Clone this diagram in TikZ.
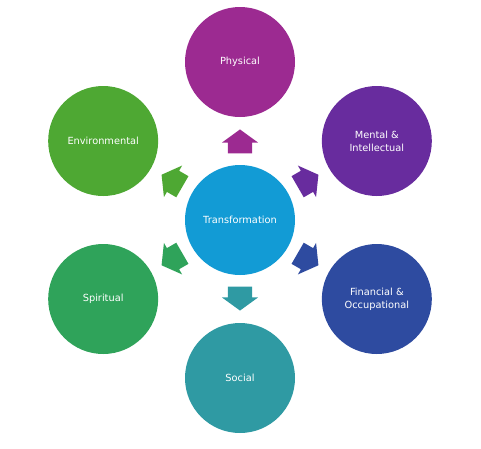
\documentclass[tikz,border=0pt]{standalone}
\usepackage{fontspec}
\setmainfont{DejaVu Sans}
\usepackage{tikz}
\usetikzlibrary{shapes.arrows, calc}
\definecolor{CenterCol}{RGB}{18,155,213}
\definecolor{PhysCol}{RGB}{156,42,145}
\definecolor{MentCol}{RGB}{104,44,158}
\definecolor{FinCol}{RGB}{46,75,160}
\definecolor{SocCol}{RGB}{47,154,163}
\definecolor{SpirCol}{RGB}{47,163,90}
\definecolor{EnvCol}{RGB}{78,168,51}

\begin{document}
\begin{tikzpicture}[
  x=1pt, y=1pt,
  bubble/.style={circle, minimum size=110pt, inner sep=0pt, align=center,
                 text=white, font=\fontsize{9.8}{13}\selectfont},
  blockarr/.style={single arrow, minimum height=24pt, inner xsep=0pt,
                   inner ysep=12pt, text height=0pt, text depth=0pt,
                   single arrow head extend=6pt, single arrow tip angle=108,
                   draw=none, anchor=tail},
]
\useasboundingbox (-240,-228) rectangle (241,220);
\node[bubble, fill=CenterCol] (T) at (0,0) {Transformation};
\node[bubble, fill=PhysCol] (Phys) at (90:158) {Physical};
\node[bubble, fill=MentCol] (Ment) at (30:158) {Mental \&\\Intellectual};
\node[bubble, fill=FinCol] (Fin) at (-30:158) {Financial \&\\Occupational};
\node[bubble, fill=SocCol] (Soc) at (-90:158) {Social};
\node[bubble, fill=SpirCol] (Spir) at (-150:158) {Spiritual};
\node[bubble, fill=EnvCol] (Env) at (150:158) {Environmental};
% block arrows from the centre outwards
\node[blockarr, fill=PhysCol, rotate=90] (aPhys) at ($(T)!0.42!(Phys)$) {};
\node[blockarr, fill=MentCol, rotate=30] (aMent) at ($(T)!0.42!(Ment)$) {};
\node[blockarr, fill=FinCol, rotate=-30] (aFin) at ($(T)!0.42!(Fin)$) {};
\node[blockarr, fill=SocCol, rotate=-90] (aSoc) at ($(T)!0.42!(Soc)$) {};
\node[blockarr, fill=SpirCol, rotate=-150] (aSpir) at ($(T)!0.42!(Spir)$) {};
\node[blockarr, fill=EnvCol, rotate=150] (aEnv) at ($(T)!0.42!(Env)$) {};
\end{tikzpicture}
\end{document}
